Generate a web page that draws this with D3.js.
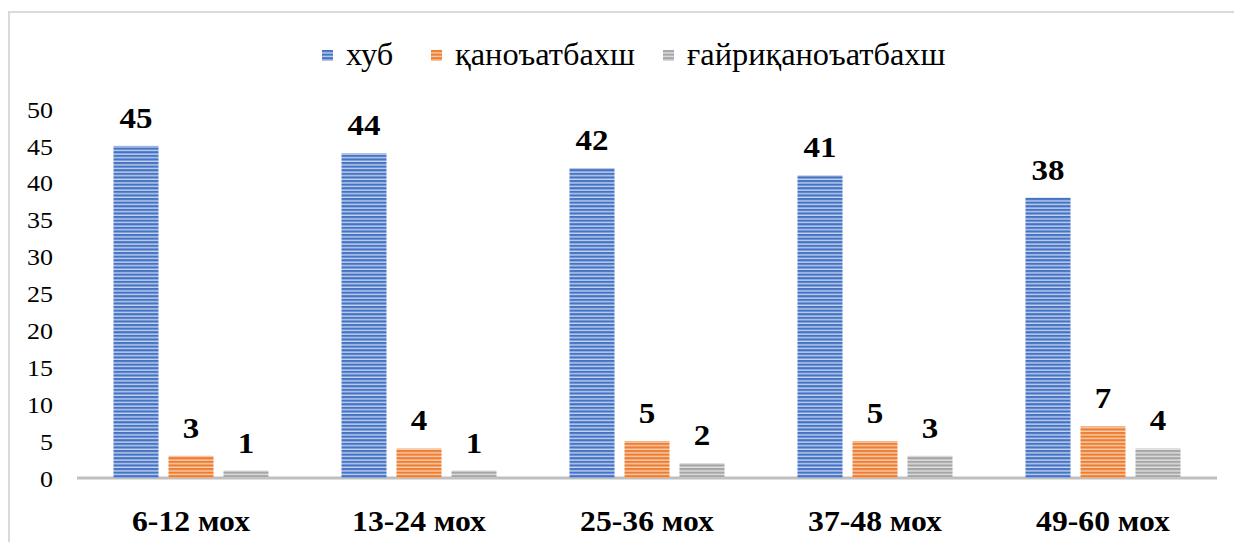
<!DOCTYPE html>
<html><head><meta charset="utf-8">
<script src="https://cdnjs.cloudflare.com/ajax/libs/d3/7.8.5/d3.min.js"></script>
<style>html,body{margin:0;padding:0;background:#fff;}svg{display:block;}</style>
</head><body>
<script>
const categories = ["6-12 мох", "13-24 мох", "25-36 мох", "37-48 мох", "49-60 мох"];
const seriesNames = ["хуб", "қаноъатбахш", "ғайриқаноъатбахш"];
const khub = [45, 44, 42, 41, 38];
const qanoat = [3, 4, 5, 5, 7];
const ghayri = [1, 1, 2, 3, 4];
const yTicks = [0, 5, 10, 15, 20, 25, 30, 35, 40, 45, 50];
const colors = ["#4472C4", "#ED7D31", "#A5A5A5"];
const lights = ["#c5d4ee", "#f9cfb3", "#e2e2e2"];

const W = 1234, H = 542;
const svg = d3.select("body").append("svg").attr("width", W).attr("height", H);
const FONT = '"Liberation Serif"';

// horizontal stretch so that a reference text reaches the width seen in the picture
function stretchFor(sel, refWidth) {
  const n = sel.node();
  const w = n.getComputedTextLength();
  return w > 0 ? refWidth / w : 1;
}

const defs = svg.append("defs");
colors.forEach((c, i) => {
  const p = defs.append("pattern").attr("id", "pat" + i)
    .attr("patternUnits", "userSpaceOnUse").attr("width", 8).attr("height", 3.6);
  p.append("rect").attr("width", 8).attr("height", 3.6).attr("fill", lights[i]);
  p.append("rect").attr("y", 0).attr("width", 8).attr("height", 2.2).attr("fill", c);
});

// frame
svg.append("rect").attr("x", 9).attr("y", 12).attr("width", 1240).attr("height", 560)
  .attr("fill", "none").attr("stroke", "#d9d9d9").attr("stroke-width", 2);

const x0 = d3.scaleBand().domain(categories).range([77, 1217]).padding(0);
const x1 = d3.scaleBand().domain(seriesNames).range([36.5, 191.5]).paddingInner(10 / 55);
const y = d3.scaleLinear().domain([0, 50]).range([478, 109]);

const data = categories.map((c, i) => ({cat: c, vals: [khub[i], qanoat[i], ghayri[i]]}));

// y axis
const yAxis = d3.axisLeft(y).tickValues(yTicks).tickSize(0).tickPadding(0);
const gy = svg.append("g").attr("transform", "translate(53,0)").call(yAxis);
gy.attr("font-family", null).attr("font-size", null);
gy.select(".domain").remove();
gy.selectAll("text").style("font-family", FONT).style("font-size", "24px").attr("fill", "#000")
  .attr("dy", "0.34em");
const sxTick = stretchFor(gy.selectAll("text").filter(d => d === 50), 26);
gy.selectAll("text").attr("transform", `scale(${sxTick},1)`);

// baseline
svg.append("line").attr("x1", 77).attr("x2", 1217).attr("y1", y(0)).attr("y2", y(0))
  .attr("stroke", "#bfbfbf").attr("stroke-width", 3);

const groups = svg.append("g").selectAll("g").data(data).join("g")
  .attr("transform", d => `translate(${x0(d.cat)},0)`);

groups.selectAll("rect").data(d => d.vals.map((v, i) => ({v, i})))
  .join("rect")
  .attr("x", d => x1(seriesNames[d.i]))
  .attr("width", x1.bandwidth())
  .attr("y", d => y(d.v))
  .attr("height", d => y(0) - y(d.v))
  .attr("fill", d => `url(#pat${d.i})`);

const vals = groups.selectAll("text.val").data(d => d.vals.map((v, i) => ({v, i})))
  .join("text").attr("class", "val")
  .attr("text-anchor", "middle")
  .style("font-family", FONT).style("font-weight", "bold").style("font-size", "30px")
  .text(d => d.v);
const sxVal = stretchFor(vals.filter(d => d.v === 45), 33);
vals.attr("transform", d => `translate(${x1(seriesNames[d.i]) + x1.bandwidth() / 2},${y(d.v) - 18}) scale(${sxVal},1)`);

// x axis labels
const xAxis = d3.axisBottom(x0).tickSize(0).tickPadding(0);
const gx = svg.append("g").attr("transform", "translate(0,531)").call(xAxis);
gx.attr("font-family", null).attr("font-size", null);
gx.select(".domain").remove();
gx.selectAll("text").style("font-family", FONT).style("font-weight", "bold")
  .style("font-size", "29px").attr("fill", "#000").attr("dy", 0).attr("y", 0);
const sxCat = stretchFor(gx.selectAll("text").filter(d => d === categories[0]), 118);
gx.selectAll("text").attr("transform", `scale(${sxCat},1)`);

// legend
const legX = [322, 431, 663];
const leg = svg.append("g").selectAll("g").data(seriesNames).join("g")
  .attr("transform", (d, i) => `translate(${legX[i]},50)`);
leg.append("rect").attr("width", 11).attr("height", 11).attr("fill", (d, i) => `url(#pat${i})`);
const legText = leg.append("text").style("font-family", FONT).style("font-size", "32px")
  .text(d => d);
const sxLeg = stretchFor(legText.filter(d => d === seriesNames[1]), 180);
legText.attr("transform", `translate(24,15) scale(${sxLeg},1)`);
</script>
</body></html>
